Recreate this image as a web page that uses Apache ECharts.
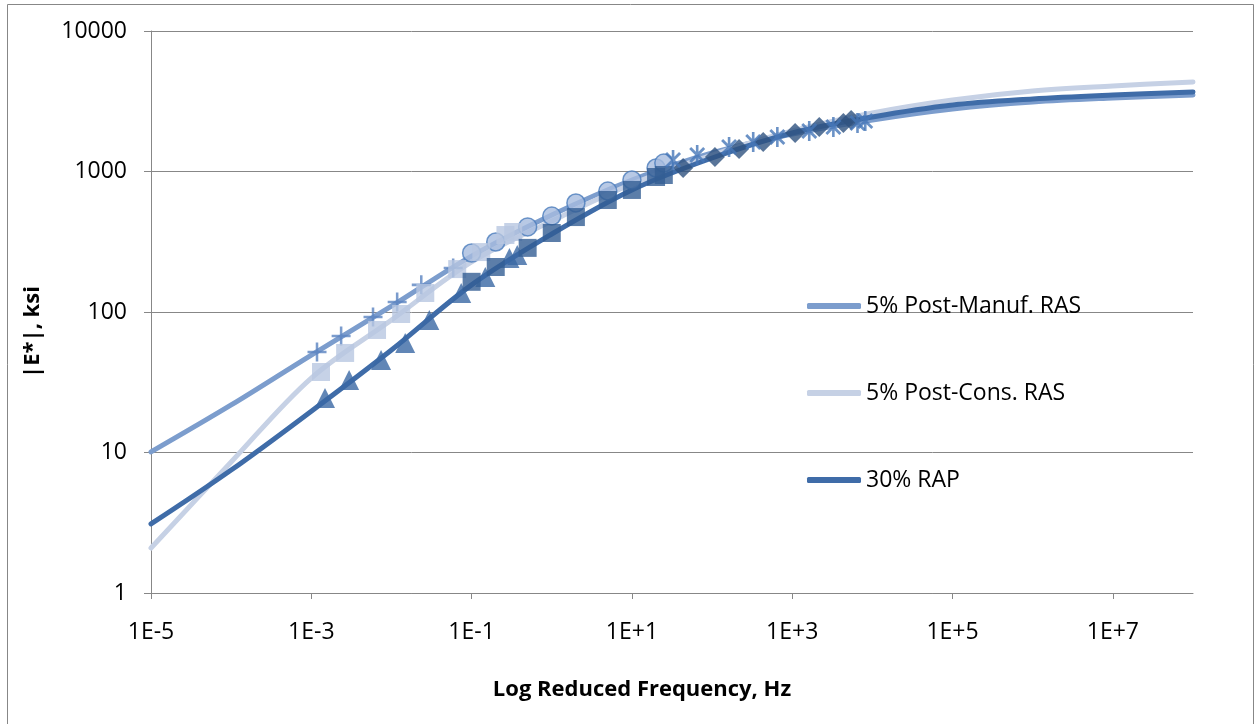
<!DOCTYPE html>
<html>
<head>
<meta charset="utf-8">
<title>Dynamic modulus master curves</title>
<script src="https://cdn.jsdelivr.net/npm/echarts@6/dist/echarts.min.js"></script>
<style>
  html, body { margin: 0; padding: 0; background: #fff; }
  #main { width: 1255px; height: 724px; }
</style>
</head>
<body>
<div id="main"></div>
<script>
// master curves, one point per decade of reduced frequency (Hz)
var curveFreq = [1e-5, 1e-4, 1e-3, 1e-2, 1e-1, 1e0, 1e1, 1e2, 1e3, 1e4, 1e5, 1e6, 1e7, 1e8];
var manufCurve = [10.1, 21.8, 49.4, 110, 250, 490, 870, 1355, 1849, 2327, 2786, 3124, 3336, 3501];
var consCurve = [2.09, 8.56, 33.9, 87.7, 227, 444, 815, 1310, 1941, 2610, 3228, 3742, 4061, 4335];
var rapCurve = [3.10, 7.5, 19.7, 53.7, 156, 359, 739, 1248, 1880, 2443, 2972, 3281, 3501, 3684];

// measured points (shifted frequencies), |E*| in ksi
var refFreq = [0.1, 0.2, 0.5, 1, 2, 5, 10, 20, 25];

var manufHighFreq = [0.001178, 0.002355, 0.005888, 0.01178, 0.02355, 0.05888];
var manufHighE = [51.9, 67.5, 92.1, 118, 156, 206];
var manufMidE = [263, 315, 403, 482, 597, 726, 870, 1059, 1149];
var manufLowFreq = [32.6, 65.2, 163, 326, 652, 1630, 3260, 6520, 8150];
var manufLowE = [1207, 1310, 1494, 1622, 1761, 1941, 2074, 2214, 2287];

var consHighFreq = [0.001321, 0.002642, 0.006607, 0.01321, 0.02642, 0.06607, 0.1321, 0.2642, 0.3303];
var consHighE = [37.4, 51.1, 74.5, 96.8, 136.5, 202, 267, 353, 371];

var rapHighFreq = [0.001483, 0.002965, 0.007413, 0.01483, 0.02965, 0.07413, 0.1483, 0.2965, 0.3707];
var rapHighE = [24.4, 32.8, 45.5, 60.2, 87.7, 136.5, 177.5, 242, 255];
var rapMidE = [164, 209, 286, 365, 474, 627, 739, 914, 944];
var rapLowFreq = [43.5, 108.6, 217.3, 434.5, 1086, 2173, 4345, 5433];
var rapLowE = [1059, 1268, 1445, 1622, 1880, 2074, 2214, 2327];

var seriesNames = ['5% Post-Manuf. RAS', '5% Post-Cons. RAS', '30% RAP'];
var xTitle = 'Log Reduced Frequency, Hz';
var yTitle = '|E*|, ksi';

function zip(xs, ys) {
    var out = [];
    for (var i = 0; i < xs.length; i++) out.push([xs[i], ys[i]]);
    return out;
}

var FONT = '"Open Sans", "DejaVu Sans", sans-serif';
var GRID = '#878787';

// excel style "+" and "*" markers
var plusPath = 'path://M-1.2,-9H1.2V-1.2H9V1.2H1.2V9H-1.2V1.2H-9V-1.2H-1.2Z';
var starPath = 'path://M-1.3,-10L1.3,-10L1.3,10L-1.3,10Z M-6,-8L8,6L6,8L-8,-6Z M6,-8L8,-6L-6,8L-8,6Z';

function curve(name, data, color) {
    return {
        name: name,
        type: 'line',
        data: data,
        symbol: 'none',
        smooth: 0.35,
        lineStyle: { width: 5, color: color, cap: 'round' },
        itemStyle: { color: color },
        z: 2
    };
}

function points(data, symbol, size, style) {
    return {
        type: 'scatter',
        data: data,
        symbol: symbol,
        symbolSize: size,
        symbolKeepAspect: true,
        itemStyle: style,
        silent: true,
        z: 3
    };
}

var myChart = echarts.init(document.getElementById('main'));

var option = {
    animation: false,
    backgroundColor: '#fff',
    grid: { left: 151, right: 62, top: 31, bottom: 131, containLabel: false },
    legend: {
        orient: 'vertical',
        left: 802,
        top: 288,
        itemWidth: 54,
        itemHeight: 6,
        itemGap: 61,
        icon: 'roundRect',
        data: seriesNames,
        textStyle: { fontFamily: FONT, fontSize: 23, color: '#000', lineHeight: 26 }
    },
    xAxis: {
        type: 'log',
        logBase: 10,
        min: 1e-5,
        max: 1e8,
        interval: 2,
        axisLine: { lineStyle: { color: GRID, width: 1 } },
        axisTick: { length: 6, lineStyle: { color: GRID } },
        splitLine: { show: false },
        axisLabel: {
            margin: 28,
            fontFamily: FONT,
            fontSize: 23,
            color: '#000',
            showMaxLabel: false,
            formatter: function (v) {
                var e = Math.round(Math.log10(v));
                return '1E' + (e >= 0 ? '+' : '') + e;
            }
        }
    },
    yAxis: {
        type: 'log',
        logBase: 10,
        min: 1,
        max: 10000,
        axisLine: { show: true, lineStyle: { color: GRID, width: 1 } },
        axisTick: { show: true, length: 7, lineStyle: { color: GRID } },
        splitLine: { show: true, lineStyle: { color: GRID, width: 1 } },
        axisLabel: {
            margin: 24,
            fontFamily: FONT,
            fontSize: 23,
            color: '#000',
            formatter: function (v) { return String(Math.round(v)); }
        }
    },
    graphic: [
        {
            type: 'rect',
            shape: { x: 7.5, y: 4.5, width: 1246, height: 740 },
            style: { fill: null, stroke: GRID, lineWidth: 1 },
            silent: true,
            z: -10
        },
        {
            type: 'text',
            x: 642,
            y: 690,
            style: {
                text: xTitle, fontFamily: FONT, fontSize: 22, fontWeight: 'bold',
                fill: '#000', align: 'center', verticalAlign: 'middle'
            }
        },
        {
            type: 'text',
            x: 33,
            y: 332,
            rotation: Math.PI / 2,
            style: {
                text: yTitle, fontFamily: FONT, fontSize: 22, fontWeight: 'bold',
                fill: '#000', align: 'center', verticalAlign: 'middle'
            }
        }
    ],
    series: [
        curve(seriesNames[0], zip(curveFreq, manufCurve), '#7c9dcd'),
        curve(seriesNames[1], zip(curveFreq, consCurve), '#c6d1e5'),
        curve(seriesNames[2], zip(curveFreq, rapCurve), '#3f6ca8'),

        points(zip(refFreq, manufMidE), 'circle', 18,
            { color: '#a6bbdf', borderColor: '#4a7cbb', borderWidth: 1.5 }),
        points(zip(manufHighFreq, manufHighE), plusPath, 19, { color: '#5a83c0' }),
        points(zip(consHighFreq, consHighE), 'rect', 18, { color: '#b8c7e1' }),
        points(zip(rapHighFreq, rapHighE), 'triangle', 20, { color: '#3a68a4' }),
        points(zip(refFreq, rapMidE), 'rect', 18, { color: '#335e93' }),
        points(zip(rapLowFreq, rapLowE), 'diamond', [20, 20], { color: '#2f5280' }),
        points(zip(manufLowFreq, manufLowE), starPath, 20, { color: '#4677b8' })
    ]
};

myChart.setOption(option);
</script>
</body>
</html>
